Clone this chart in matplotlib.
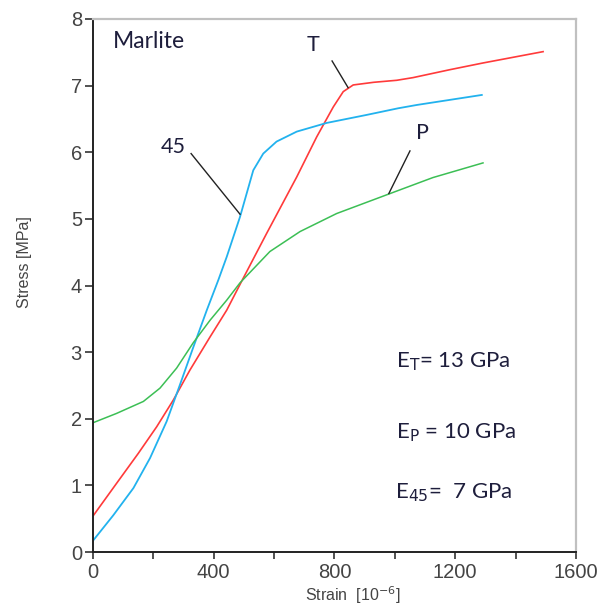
import matplotlib
matplotlib.use("Agg")
import matplotlib.pyplot as plt
from matplotlib.ticker import MultipleLocator

# Data
t_strain = [0, 78, 150, 211, 266, 321, 388, 443, 492, 575, 675, 741, 796, 829, 862, 930, 1006, 1060, 1183, 1292, 1491]
t_stress = [0.54, 1.03, 1.48, 1.88, 2.28, 2.73, 3.23, 3.63, 4.06, 4.78, 5.63, 6.23, 6.68, 6.91, 7.01, 7.05, 7.08, 7.12, 7.24, 7.34, 7.51]

d45_strain = [0, 67, 134, 189, 244, 288, 332, 377, 415, 443, 487, 509, 531, 564, 608, 675, 774, 906, 1011, 1073, 1288]
d45_stress = [0.17, 0.55, 0.96, 1.41, 1.96, 2.51, 3.07, 3.63, 4.08, 4.43, 5.03, 5.38, 5.73, 5.98, 6.16, 6.31, 6.44, 6.56, 6.66, 6.71, 6.86]

p_strain = [0, 78, 167, 222, 277, 332, 388, 443, 487, 586, 686, 807, 984, 1126, 1292]
p_stress = [1.94, 2.08, 2.26, 2.46, 2.76, 3.14, 3.48, 3.78, 4.04, 4.51, 4.81, 5.08, 5.38, 5.62, 5.84]

x_ticks = [0, 400, 800, 1200, 1600]
y_ticks = [0, 1, 2, 3, 4, 5, 6, 7, 8]

fig = plt.figure(figsize=(6.09, 6.07), dpi=100)
ax = fig.add_axes([0.1527, 0.0906, 0.7931, 0.8781])

ax.plot(t_strain, t_stress, color="#FF3A3A", lw=1.2)
ax.plot(d45_strain, d45_stress, color="#22B2EE", lw=1.3)
ax.plot(p_strain, p_stress, color="#3CBF55", lw=1.1)

ax.set_xlim(0, 1600)
ax.set_ylim(0, 8)
ax.set_xticks(x_ticks)
ax.set_yticks(y_ticks)
ax.xaxis.set_minor_locator(MultipleLocator(200))

tick_font = dict(family="Liberation Sans", size=14.5, color="#444444")
ax.set_xticklabels([str(v) for v in x_ticks], **tick_font)
ax.set_yticklabels([str(v) for v in y_ticks], **tick_font)
ax.tick_params(axis="y", which="major", direction="out", length=6, width=1.2, color="#333333", pad=2)
ax.tick_params(axis="x", which="major", direction="out", length=5, width=1.2, color="#333333", pad=3)
ax.tick_params(axis="x", which="minor", direction="out", length=5, width=1.2, color="#333333")

for s in ["left", "bottom"]:
    ax.spines[s].set_color("#222222")
    ax.spines[s].set_linewidth(1.4)
for s in ["top", "right"]:
    ax.spines[s].set_color("#C0C0C0")
    ax.spines[s].set_linewidth(1.6)

fig.text(353/609, 1 - 595/607, "Strain  [10$^{-6}$]", ha="center", va="center",
         family="Liberation Sans", size=11.5, color="#444444")
fig.text(25/609, 1 - 262/607, "Stress [MPa]", ha="center", va="center", rotation=90,
         family="Liberation Sans", size=11.5, color="#444444")

ann_font = dict(family="Lato", color="#1E1E3C")
ax.text(66, 7.66, "Marlite", ha="left", va="center", size=16.5, **ann_font)

# leaders and labels
ax.plot([325, 487], [5.98, 5.07], color="#222222", lw=1.0)
ax.text(265, 6.08, "45", ha="center", va="center", size=15.5, **ann_font)
ax.plot([792, 845], [7.37, 6.97], color="#222222", lw=1.0)
ax.text(729, 7.61, "T", ha="center", va="center", size=15.5, **ann_font)
ax.plot([1050, 980], [6.02, 5.38], color="#222222", lw=1.0)
ax.text(1090, 6.29, "P", ha="center", va="center", size=15.5, **ann_font)

ax.text(1005, 2.85, "E$_{\\mathrm{T}}$= 13 GPa", ha="left", va="center", size=16, **ann_font)
ax.text(1005, 1.79, "E$_{\\mathrm{P}}$ = 10 GPa", ha="left", va="center", size=16, **ann_font)
ax.text(1000, 0.89, "E$_{45}$=  7 GPa", ha="left", va="center", size=16, **ann_font)

fig.savefig("out.png", dpi=100)
